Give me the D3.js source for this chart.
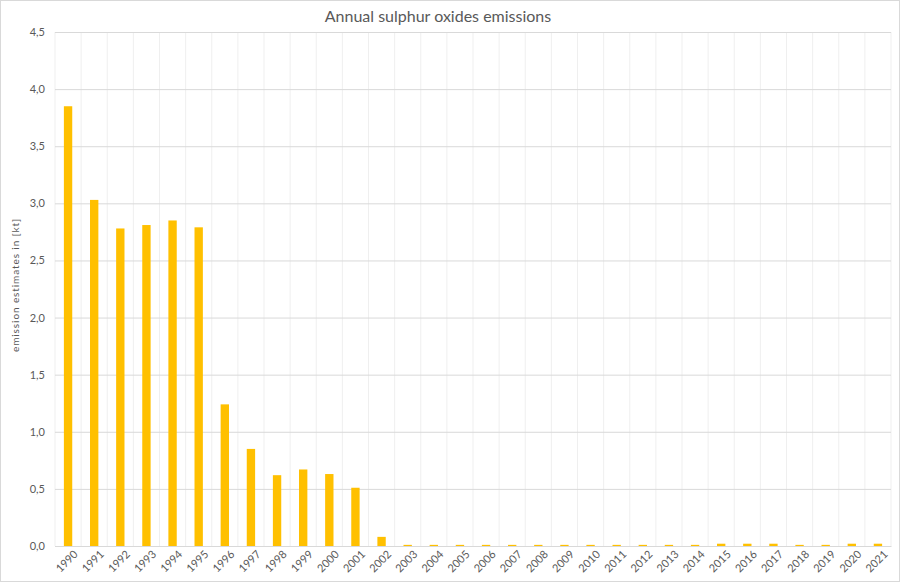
<!DOCTYPE html>
<html><head><meta charset="utf-8">
<script src="https://cdn.jsdelivr.net/npm/d3@7"></script>
<style>body{margin:0;background:#fff;}svg{display:block;}</style>
</head><body>
<script>
const years = ["1990","1991","1992","1993","1994","1995","1996","1997","1998","1999","2000","2001","2002","2003","2004","2005","2006","2007","2008","2009","2010","2011","2012","2013","2014","2015","2016","2017","2018","2019","2020","2021"];
const values = [3.85,3.03,2.78,2.81,2.85,2.79,1.24,0.85,0.62,0.67,0.63,0.51,0.08,0.01,0.01,0.01,0.01,0.01,0.01,0.01,0.01,0.01,0.01,0.01,0.01,0.02,0.02,0.02,0.01,0.01,0.02,0.02];
const yTicks = [0,0.5,1,1.5,2,2.5,3,3.5,4,4.5];
const title = "Annual sulphur oxides emissions";
const yTitle = "emission estimates in [kt]";

const W = 900, H = 582;
const m = {left:55, right:9, top:32, bottom:36};
const svg = d3.select("body").append("svg").attr("width",W).attr("height",H);
svg.append("rect").attr("x",0.5).attr("y",0.5).attr("width",W-1).attr("height",H-1).attr("fill","#fff").attr("stroke","#d9d9d9");
const font = "Lato, 'Open Sans', sans-serif";
const x = d3.scaleBand().domain(years).range([m.left, W-m.right]).paddingInner(0.68).paddingOuter(0.34);
const y = d3.scaleLinear().domain([0,4.5]).range([H-m.bottom, m.top]);
const fmt = d => d3.format(".1f")(d).replace(".",",");

// vertical grid lines at category boundaries
const bounds = d3.range(years.length+1).map(i => m.left + i*(W-m.left-m.right)/years.length);
svg.append("g").selectAll("line").data(bounds).join("line")
  .attr("x1",d=>d).attr("x2",d=>d).attr("y1",y(4.5)).attr("y2",y(0))
  .attr("stroke","#efefef").attr("stroke-width",1);

// horizontal grid
const yAxis = d3.axisLeft(y).tickValues(yTicks).tickFormat(fmt).tickSize(-(W-m.left-m.right)).tickPadding(10);
const gy = svg.append("g").attr("transform",`translate(${m.left},0)`).call(yAxis);
gy.select(".domain").remove();
gy.selectAll(".tick line").attr("stroke","#d9d9d9");
gy.selectAll(".tick text").attr("fill","#595959").style("font-family",font).style("font-size","11px");

// bars
svg.append("g").selectAll("rect").data(values).join("rect")
  .attr("x",(d,i)=>x(years[i])).attr("width",x.bandwidth())
  .attr("y",d=>y(d)).attr("height",d=>y(0)-y(d)).attr("fill","#ffc000");

// x axis
const xAxis = d3.axisBottom(x).tickSize(0).tickPadding(6);
const gx = svg.append("g").attr("transform",`translate(0,${y(0)})`).call(xAxis);
gx.select(".domain").attr("stroke","#d9d9d9");
gx.selectAll(".tick text").attr("fill","#595959").style("font-family",font).style("font-size","11px")
  .attr("text-anchor","end").attr("dx","0.1em").attr("dy","0.7em").attr("transform","rotate(-45)");

// title
svg.append("text").attr("x",438).attr("y",22).attr("text-anchor","middle")
  .attr("fill","#595959").style("font-family",font).style("font-size","16px").text(title);
svg.append("text").attr("transform",`translate(19,285) rotate(-90)`).attr("text-anchor","middle")
  .attr("fill","#595959").style("font-family",font).style("font-size","10px").style("letter-spacing","0.9px").text(yTitle);
</script>
</body></html>
